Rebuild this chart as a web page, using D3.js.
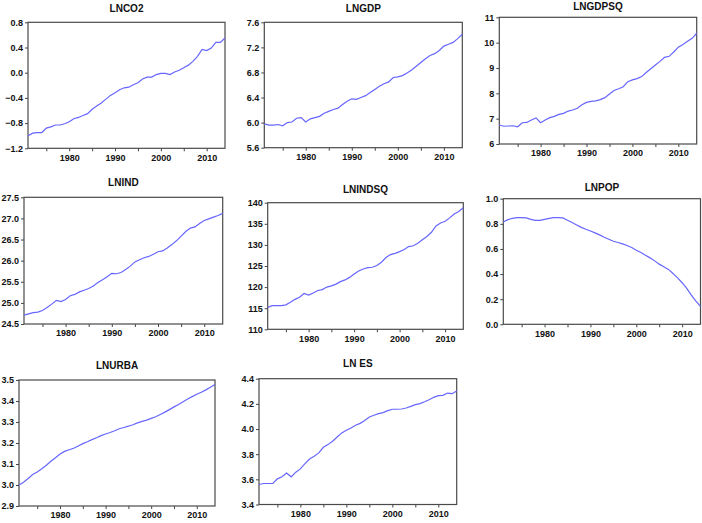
<!DOCTYPE html>
<html><head><meta charset="utf-8">
<script src="https://cdn.jsdelivr.net/npm/d3@7"></script>
<style>
body{margin:0;background:#fff;}
svg{display:block;}
.tick text{font-family:"Liberation Sans",Arial,sans-serif;font-weight:bold;font-size:9px;fill:#111;}
</style></head>
<body>
<svg id="c" width="702" height="523"></svg>
<script>
const years = d3.range(1971, 2015);
const xTickYears = [1975,1980,1985,1990,1995,2000,2005,2010];
const xLabelYears = [1980,1990,2000,2010];

const titles = ["LNCO2","LNGDP","LNGDPSQ","LNIND","LNINDSQ","LNPOP","LNURBA","LN ES"];

const lnco2 = [-1.00,-0.96,-0.95,-0.95,-0.88,-0.86,-0.83,-0.83,-0.81,-0.78,-0.73,-0.71,-0.68,-0.65,-0.58,-0.53,-0.48,-0.42,-0.36,-0.32,-0.27,-0.24,-0.23,-0.19,-0.16,-0.10,-0.07,-0.07,-0.03,-0.01,-0.01,-0.03,0.01,0.04,0.08,0.12,0.18,0.26,0.37,0.35,0.39,0.48,0.48,0.55];
const lngdp = [5.98,5.96,5.96,5.97,5.95,6.00,6.01,6.07,6.08,6.01,6.06,6.08,6.10,6.15,6.18,6.21,6.23,6.29,6.34,6.38,6.37,6.40,6.43,6.48,6.53,6.58,6.62,6.65,6.72,6.73,6.75,6.79,6.84,6.90,6.96,7.02,7.07,7.10,7.15,7.22,7.25,7.28,7.34,7.41];
const lngdpsq = [6.75,6.70,6.71,6.72,6.68,6.84,6.85,6.95,7.03,6.84,6.95,7.04,7.09,7.17,7.21,7.30,7.34,7.41,7.55,7.64,7.68,7.70,7.75,7.83,7.97,8.11,8.18,8.26,8.46,8.53,8.58,8.66,8.82,8.97,9.12,9.26,9.42,9.46,9.63,9.82,9.93,10.05,10.17,10.37];
const lnind = [24.71,24.74,24.77,24.78,24.82,24.89,24.97,25.06,25.03,25.08,25.17,25.20,25.26,25.30,25.34,25.40,25.48,25.55,25.62,25.70,25.69,25.72,25.79,25.87,25.97,26.02,26.07,26.10,26.15,26.21,26.23,26.30,26.38,26.47,26.58,26.69,26.77,26.80,26.88,26.95,26.99,27.03,27.07,27.12];
const lnindsq = [115.2,115.6,115.6,115.6,115.8,116.4,117.1,117.6,118.5,118.1,118.6,119.2,119.4,120.0,120.3,120.7,121.3,121.7,122.3,123.1,123.8,124.3,124.6,124.7,125.1,125.9,127.0,127.7,128.0,128.4,128.9,129.6,129.8,130.4,131.2,132.0,133.0,134.5,135.2,135.6,136.4,137.3,137.9,138.8];
const lnpop = [0.815,0.833,0.844,0.849,0.849,0.847,0.836,0.828,0.828,0.836,0.844,0.849,0.849,0.847,0.828,0.810,0.791,0.772,0.757,0.743,0.728,0.712,0.693,0.677,0.661,0.651,0.640,0.627,0.611,0.590,0.571,0.550,0.529,0.505,0.479,0.458,0.437,0.405,0.370,0.331,0.286,0.233,0.185,0.143];
const lnurba = [3.000,3.013,3.031,3.050,3.062,3.077,3.094,3.113,3.130,3.148,3.160,3.168,3.175,3.186,3.197,3.206,3.216,3.225,3.235,3.243,3.250,3.258,3.268,3.274,3.280,3.287,3.296,3.303,3.309,3.317,3.325,3.336,3.347,3.359,3.372,3.383,3.396,3.410,3.421,3.432,3.442,3.453,3.465,3.479];
const lnes = [3.559,3.567,3.567,3.567,3.604,3.620,3.650,3.620,3.657,3.683,3.725,3.762,3.783,3.810,3.855,3.876,3.903,3.937,3.969,3.990,4.008,4.030,4.045,4.067,4.096,4.109,4.122,4.130,4.146,4.157,4.157,4.159,4.167,4.180,4.194,4.202,4.217,4.233,4.252,4.265,4.268,4.286,4.281,4.302];

const yDomains = [[-1.2,0.8],[5.6,7.6],[6,11],[24.5,27.5],[110,140],[0,1],[2.9,3.5],[3.4,4.4]];
const yTickValues = [
  [-1.2,-0.8,-0.4,0.0,0.4,0.8],
  [5.6,6.0,6.4,6.8,7.2,7.6],
  [6,7,8,9,10,11],
  [24.5,25.0,25.5,26.0,26.5,27.0,27.5],
  [110,115,120,125,130,135,140],
  [0.0,0.2,0.4,0.6,0.8,1.0],
  [2.9,3.0,3.1,3.2,3.3,3.4,3.5],
  [3.4,3.6,3.8,4.0,4.2,4.4]
];
const yTickFormats = [".1f",".1f",".0f",".1f",".0f",".1f",".1f",".1f"];
const seriesList = [lnco2,lngdp,lngdpsq,lnind,lnindsq,lnpop,lnurba,lnes];

// layout: [left, right, top, bottom, titleBaseline]
const layout = [
  [28,225,22.3,148.3,11.5],
  [264.3,462.3,22.3,147.7,11.5],
  [499.3,696.7,17.3,144,9.5],
  [24,222.7,197.3,324,185.5],
  [267.7,463.3,202.7,329.3,192.5],
  [503.3,700.5,198.7,324.3,191],
  [19,215,380,506,369],
  [259,456.7,378.7,504.5,367]
];

const svg = d3.select("#c");
seriesList.forEach((vals, i) => {
  const [l, r, t, b, tb] = layout[i];
  const x = d3.scaleLinear().domain([1971, 2014]).range([l, r]);
  const y = d3.scaleLinear().domain(yDomains[i]).range([b, t]);
  const g = svg.append("g");

  // x axis ticks
  const xa = g.append("g").attr("transform", `translate(0,${b})`)
    .call(d3.axisBottom(x).tickValues(xTickYears).tickSize(3).tickPadding(3)
      .tickFormat(d => xLabelYears.includes(d) ? d3.format("d")(d) : ""));
  xa.select(".domain").remove();
  xa.selectAll(".tick line").attr("stroke", "#444");

  const ya = g.append("g").attr("transform", `translate(${l},0)`)
    .call(d3.axisLeft(y).tickValues(yTickValues[i]).tickSize(3).tickPadding(2)
      .tickFormat(d3.format(yTickFormats[i])));
  ya.select(".domain").remove();
  ya.selectAll(".tick line").attr("stroke", "#444");

  // frame
  g.append("rect").attr("x", l).attr("y", t).attr("width", r - l).attr("height", b - t)
    .attr("fill", "none").attr("stroke", "#4a4a4a").attr("stroke-width", 1.2);

  // line
  const line = d3.line().x((d, j) => x(years[j])).y(d => y(d));
  g.append("path").datum(vals).attr("d", line)
    .attr("fill", "none").attr("stroke", "#6666ff").attr("stroke-width", 1.2);

  // title
  g.append("text").attr("x", (l + r) / 2).attr("y", tb).attr("text-anchor", "middle")
    .attr("font-family", "Liberation Sans, Arial, sans-serif").attr("font-weight", "bold")
    .attr("font-size", "10px").attr("fill", "#111").text(titles[i]);
});
</script>
</body></html>
